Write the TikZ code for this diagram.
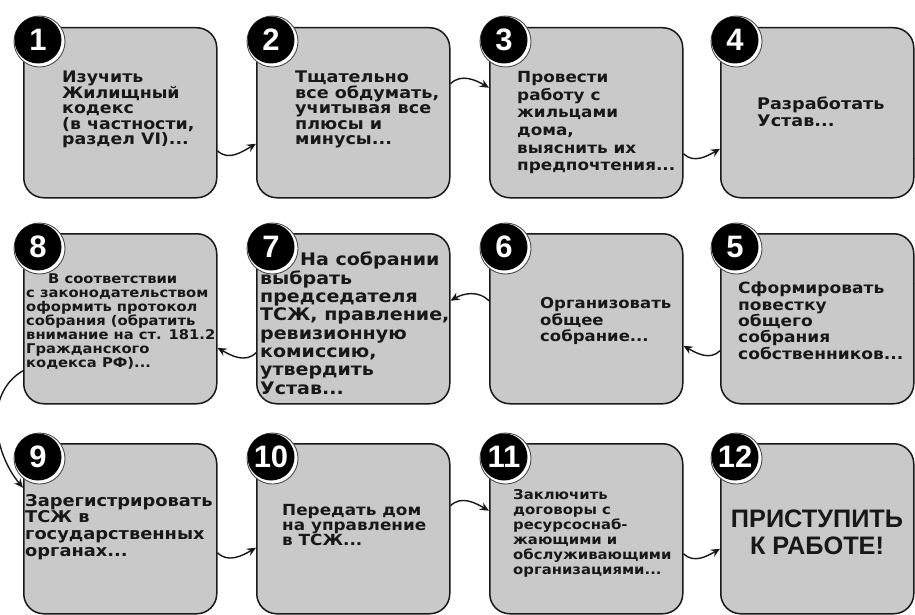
\documentclass[tikz,border=0pt]{standalone}
\usepackage{fontspec}
\setmainfont{DejaVu Sans}[FakeStretch=1.1]
\newfontfamily\numfont{Liberation Sans}
\usetikzlibrary{arrows.meta}
\definecolor{boxgray}{RGB}{201,201,201}
\definecolor{inkc}{RGB}{24,24,24}
\begin{document}
\begin{tikzpicture}[x=1pt,y=-1pt,
  stepbox/.style={draw=inkc, line width=1.5pt, fill=boxgray, rounded corners=20pt,
    minimum width=193pt, minimum height=170pt, anchor=north west, inner sep=0pt},
  numc/.style={circle, fill=black, minimum size=47pt, inner sep=0pt, text=white,
    font=\numfont\bfseries\fontsize{31pt}{31pt}\selectfont},
  ringc/.style={draw=black!70, line width=0.9pt, fill=white},
  txt/.style 2 args={anchor=north west, inner sep=0pt, align=left, text=inkc,
    font=\bfseries\fontsize{#1}{#2}\selectfont},
  conn/.style={draw=inkc, line width=1.4pt, -{Stealth[length=9pt,width=8pt]}},
]
\useasboundingbox (0,0) rectangle (915,615);
% boxes
\node[stepbox] (b1) at (23,27) {};
\node[stepbox] (b2) at (256,27) {};
\node[stepbox] (b3) at (489,27) {};
\node[stepbox] (b4) at (720,27) {};
\node[stepbox] (b8) at (23,233) {};
\node[stepbox] (b7) at (256,233) {};
\node[stepbox] (b6) at (489,233) {};
\node[stepbox] (b5) at (720,233) {};
\node[stepbox] (b9) at (23,443) {};
\node[stepbox] (b10) at (256,443) {};
\node[stepbox] (b11) at (489,443) {};
\node[stepbox] (b12) at (720,443) {};
% number badges
\foreach \n/\x/\y in {1/38/40, 2/271/40, 3/504/40, 4/735/40,
                      8/38/247, 7/271/247, 6/504/247, 5/735/247,
                      9/38/457, 10/271/457, 11/504/457, 12/735/457}{
  \draw[ringc] (\x+1.5,\y+1.5) circle[radius=25.5pt];
  \node[numc] (n\n) at (\x,\y) {\n};
}
% texts
\node[txt={15.8pt}{15.5pt}] (t1) at (62,71) {Изучить\\Жилищный\\кодекс\\(в частности,\\раздел VI)...};
\node[txt={16pt}{15.5pt}] (t2) at (295,71) {Тщательно\\все обдумать,\\учитывая все\\плюсы и\\минусы...};
\node[txt={15.3pt}{17.7pt}] (t3) at (517,71) {Провести\\работу с\\жильцами\\дома,\\выяснить их\\предпочтения...};
\node[txt={16pt}{17pt}] (t4) at (757,97) {Разработать\\Устав...};
\node[txt={15.5pt}{16.3pt}] (t5) at (738,282) {Сформировать\\повестку\\общего\\собрания\\собственников...};
\node[txt={15pt}{16.7pt}] (t6) at (540,297) {Организовать\\общее\\собрание...};
\node[txt={17.3pt}{18.3pt}] (t7) at (260,252) {\hspace*{40pt}На собрании\\выбрать\\председателя\\ТСЖ, правление,\\ревизионную\\комиссию,\\утвердить\\Устав...};
\node[txt={13.4pt}{14pt}] (t8) at (26,274) {\hspace*{22pt}В соответствии\\с законодательством\\оформить протокол\\собрания (обратить\\внимание на ст. 181.2\\Гражданского\\кодекса РФ)...};
\node[txt={16.2pt}{16.7pt}] (t9) at (25,494) {Зарегистрировать\\ТСЖ в\\государственных\\органах...};
\node[txt={15.3pt}{15pt}] (t10) at (282,504) {Передать дом\\на управление\\в ТСЖ...};
\node[txt={13.5pt}{15pt}] (t11) at (513,489) {Заключить\\договоры с\\ресурсоснаб-\\жающими и\\обслуживающими\\организациями...};
\node[anchor=north, inner sep=0pt, align=center, text=inkc,
  font=\numfont\bfseries\fontsize{25.3pt}{27pt}\selectfont] (t12) at (817,510) {ПРИСТУПИТЬ\\К РАБОТЕ!};
% connectors
\draw[conn] ([yshift=-38pt]b1.east) to[out=-45,in=210] ([yshift=-31pt]b2.west);
\draw[conn] ([yshift=29pt]b2.east) to[out=45,in=150] ([yshift=25pt]b3.west);
\draw[conn] ([yshift=-41pt]b3.east) to[out=-45,in=210] ([yshift=-36pt]b4.west);
\draw[conn] ([yshift=-46pt]b4.east) to[out=0,in=0,looseness=2.5] ([yshift=35pt]b5.east);
\draw[conn] ([yshift=-32pt]b5.west) to[out=225,in=-30] ([yshift=-27pt]b6.east);
\draw[conn] ([yshift=18pt]b6.west) to[out=135,in=30] ([yshift=18pt]b7.east);
\draw[conn] ([yshift=-34pt]b7.west) to[out=225,in=-30] ([yshift=-29pt]b8.east);
\draw[conn] ([yshift=-52pt]b8.west) to[out=210,in=130] ([yshift=41pt]b9.west);
\draw[conn] ([yshift=-24pt]b9.east) to[out=-45,in=210] ([yshift=-19pt]b10.west);
\draw[conn] ([yshift=23pt]b10.east) to[out=45,in=150] ([yshift=18pt]b11.west);
\draw[conn] ([yshift=-25pt]b11.east) to[out=-45,in=210] ([yshift=-20pt]b12.west);
\end{tikzpicture}
\end{document}
